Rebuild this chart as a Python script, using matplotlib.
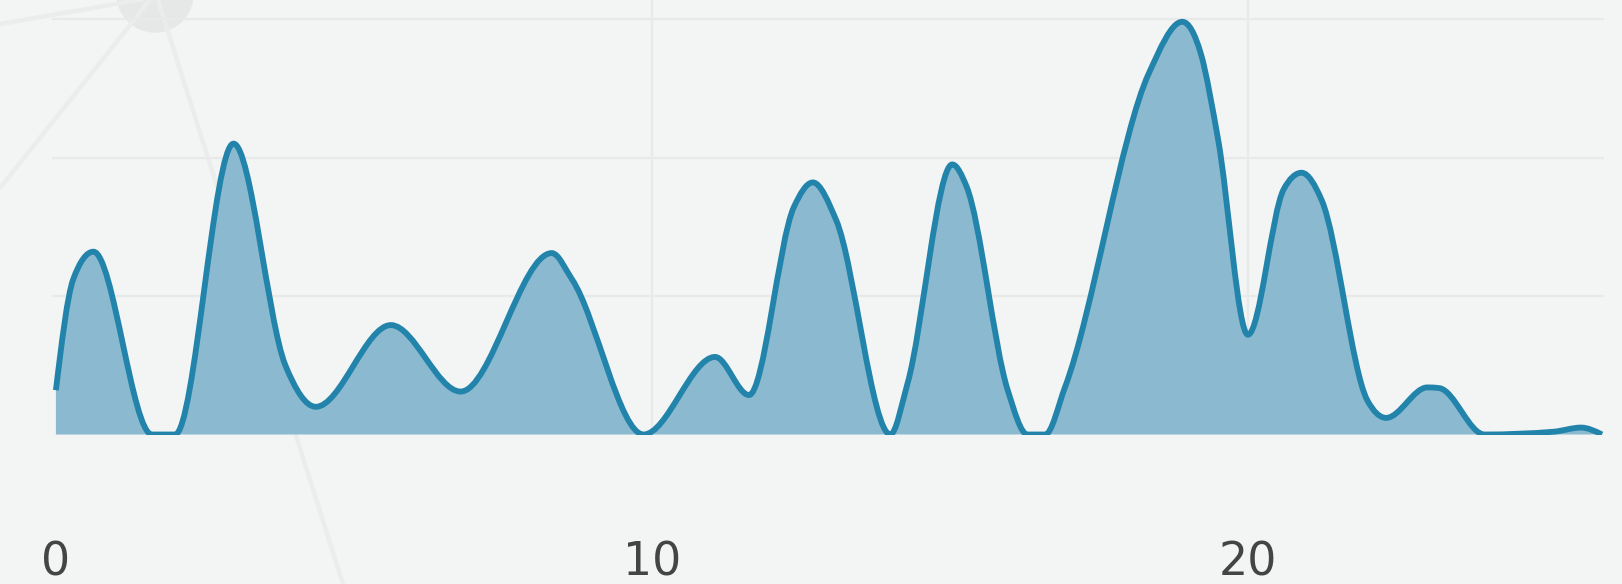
import matplotlib
matplotlib.use('Agg')
import matplotlib.pyplot as plt
import numpy as np
from matplotlib.path import Path
from matplotlib.patches import PathPatch, Circle


# points (x position, value)
X = [0.00, 0.29, 0.63, 1.61, 2.00, 2.98, 3.85, 4.36, 5.62, 6.79,
     8.32, 8.66, 9.86, 11.06, 11.63, 12.38, 12.70, 13.09, 14.00, 14.29,
     15.04, 15.28, 15.97, 16.30, 16.60, 16.93, 18.34, 18.90, 19.21, 19.50,
     20.00, 20.60, 20.90, 21.24, 22.00, 22.32, 23.01, 23.21, 23.97, 25.13,
     25.59, 25.94]
Y = [0.32, 1.12, 1.32, 0.00, 0.00, 2.10, 0.50, 0.20, 0.79, 0.31,
     1.31, 1.12, 0.00, 0.56, 0.285, 1.64, 1.82, 1.55, 0.00, 0.37,
     1.95, 1.79, 0.32, 0.00, 0.00, 0.34, 2.61, 2.98, 2.75, 2.13,
     0.72, 1.77, 1.89, 1.69, 0.25, 0.12, 0.34, 0.335, 0.00, 0.02,
     0.05, 0.00]
X_TICKS = [0, 10, 20]
X_GRID = [10, 20]
Y_GRID = [1, 2, 3]

LINE_COLOR = '#2283ab'
FILL_COLOR = '#8bb9cf'
BG_COLOR = '#f3f4f4'
GRID_COLOR = '#e8e9e9'
DECO_COLOR = '#ebeded'

W, H = 1622, 584


def monotone_slopes(x, y):
    # tangents like d3's monotoneX curve
    x = np.asarray(x, float)
    y = np.asarray(y, float)
    h = np.diff(x)
    s = np.diff(y) / h
    t = np.zeros_like(y)
    for i in range(1, len(x) - 1):
        p = (s[i - 1] * h[i] + s[i] * h[i - 1]) / (h[i - 1] + h[i])
        t[i] = (np.sign(s[i - 1]) + np.sign(s[i])) * min(abs(s[i - 1]), abs(s[i]), 0.5 * abs(p))
    t[0] = (3 * s[0] - t[1]) / 2
    t[-1] = (3 * s[-1] - t[-2]) / 2
    return t


def curve_segments(x, y):
    t = monotone_slopes(x, y)
    verts, codes = [], []
    for i in range(len(x) - 1):
        d = (x[i + 1] - x[i]) / 3
        verts += [(x[i] + d, y[i] + d * t[i]),
                  (x[i + 1] - d, y[i + 1] - d * t[i + 1]),
                  (x[i + 1], y[i + 1])]
        codes += [Path.CURVE4] * 3
    return verts, codes


fig = plt.figure(figsize=(W / 100, H / 100), dpi=100)
fig.patch.set_facecolor(BG_COLOR)

# faint network decoration in the background
deco = fig.add_axes([0, 0, 1, 1])
deco.set_xlim(0, W)
deco.set_ylim(H, 0)
deco.axis('off')
deco.plot([150, 0], [0, 188], color=DECO_COLOR, lw=3.2, solid_capstyle='butt')
deco.plot([150, 0], [-2, 24], color=DECO_COLOR, lw=3.2, solid_capstyle='butt')
deco.plot([158, 343], [0, 584], color=DECO_COLOR, lw=3.2, solid_capstyle='butt')
deco.add_patch(Circle((155, -6), 38, color='#e6e8e8'))

left, right = 52, 1604
base_px = 434.5
ax = fig.add_axes([left / W, (H - base_px) / H, (right - left) / W, base_px / H])
ax.set_facecolor('none')
ax.set_xlim((left - 55.9) / 59.6, (right - 55.9) / 59.6)
ax.set_ylim(0, base_px / 138.5)

for g in Y_GRID:
    ax.axhline(g, color=GRID_COLOR, lw=1.6, zorder=0)
for g in X_GRID:
    ax.axvline(g, color=GRID_COLOR, lw=1.6, zorder=0)

seg_v, seg_c = curve_segments(X, Y)

fill_path = Path([(X[0], 0), (X[0], Y[0])] + seg_v + [(X[-1], 0), (X[0], 0)],
                 [Path.MOVETO, Path.LINETO] + seg_c + [Path.LINETO, Path.CLOSEPOLY])
ax.add_patch(PathPatch(fill_path, facecolor=FILL_COLOR, edgecolor='none', zorder=2))

line_path = Path([(X[0], Y[0])] + seg_v, [Path.MOVETO] + seg_c)
ax.add_patch(PathPatch(line_path, fill=False, edgecolor=LINE_COLOR, lw=4.2,
                       joinstyle='round', capstyle='butt', zorder=3))

ax.set_xticks(X_TICKS)
ax.set_xticklabels([str(t) for t in X_TICKS])
ax.set_yticks([])
ax.tick_params(axis='x', length=0, pad=76, labelsize=33, labelcolor='#444444')
for s in ax.spines.values():
    s.set_visible(False)

fig.savefig('out.png', dpi=100, facecolor=BG_COLOR)
